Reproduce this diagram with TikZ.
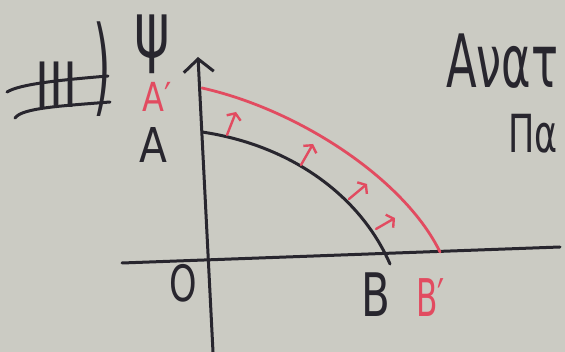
\documentclass[tikz,border=0pt]{standalone}
\usepackage{fontspec}
\setmainfont{DejaVu Sans}
\usetikzlibrary{arrows.meta}
\definecolor{board}{HTML}{CBCBC3}
\definecolor{ink}{HTML}{28262E}
\definecolor{redink}{HTML}{E24B60}
\newcommand{\hw}[4]{\fontsize{#1}{#1}\selectfont\scalebox{#2}[#3]{#4}}
\begin{document}
\begin{tikzpicture}[x=1pt,y=-1pt,
  ink/.style={draw=ink, line width=3pt, line cap=round},
  redline/.style={draw=redink, line width=2.8pt, line cap=round},
  shiftarrow/.style={draw=redink, line width=2.4pt, line cap=round, -{Straight Barb[length=5pt,width=15pt,line width=2.4pt]}},
  lbl/.style={inner sep=0pt, text=ink, anchor=base west},
  rlbl/.style={inner sep=0pt, text=redink, anchor=base west}]
\fill[board] (0,0) rectangle (565,352);
\useasboundingbox (0,0) rectangle (565,352);

% axes
\coordinate (ytop) at (198,57);
\coordinate (ybot) at (213,352);
\coordinate (xl) at (122,263);
\coordinate (xr) at (560,247);
\draw[ink, -{Straight Barb[length=13pt,width=30pt,line width=3pt]}] (ybot) -- (ytop);
\draw[ink] (xl) -- (xr);

% original curve AB
\coordinate (A) at (202,132);
\coordinate (B) at (390,264);
\draw[ink] (A) .. controls (290,145) and (360,195) .. (B);

% shifted curve A'B'
\coordinate (A2) at (202,88);
\coordinate (B2) at (440,252);
\draw[redline] (A2) .. controls (300,110) and (405,180) .. (B2);

% shift arrows
\coordinate (s1a) at (227,135); \coordinate (s1b) at (236,112);
\coordinate (s2a) at (301,165); \coordinate (s2b) at (313,144);
\coordinate (s3a) at (349,199); \coordinate (s3b) at (367,184);
\coordinate (s4a) at (376,229); \coordinate (s4b) at (395,218);
\draw[shiftarrow] (s1a) -- (s1b);
\draw[shiftarrow] (s2a) -- (s2b);
\draw[shiftarrow] (s3a) -- (s3b);
\draw[shiftarrow] (s4a) -- (s4b);

% labels
\node[lbl] (psi) at (134,58) {\hw{60}{0.9}{1.3}{ψ}};
\node[rlbl] (lA2) at (142,112) {\hw{40}{0.8}{1}{A′}};
\node[lbl] (lA) at (139,163) {\hw{48}{0.85}{1}{A}};
\node[lbl] (lO) at (169,302) {\hw{50}{0.7}{1}{O}};
\node[lbl] (lB) at (361,317) {\hw{60}{0.7}{1}{B}};
\node[rlbl] (lB2) at (416,317) {\hw{52}{0.6}{1}{B′}};

% roman numeral
\node[lbl] (num) at (35,108) {\hw{50}{0.95}{1.25}{III}};
\node[lbl] (par) at (93,103) {\fontsize{56}{56}\selectfont\scalebox{0.8}[1.9]{)}};
\coordinate (t1) at (7,92); \coordinate (t2) at (108,76);
\coordinate (u1) at (15,118); \coordinate (u2) at (110,102);
\draw[ink] (t1) .. controls (20,84) and (60,80) .. (t2);
\draw[ink] (u1) .. controls (22,108) and (60,106) .. (u2);

% Greek text on the right
\node[lbl] (txt1) at (446,88) {\hw{64}{0.7}{1.15}{Ανατ}};
\node[lbl] (txt2) at (508,153) {\hw{50}{0.7}{1.05}{Πα}};
\end{tikzpicture}
\end{document}
